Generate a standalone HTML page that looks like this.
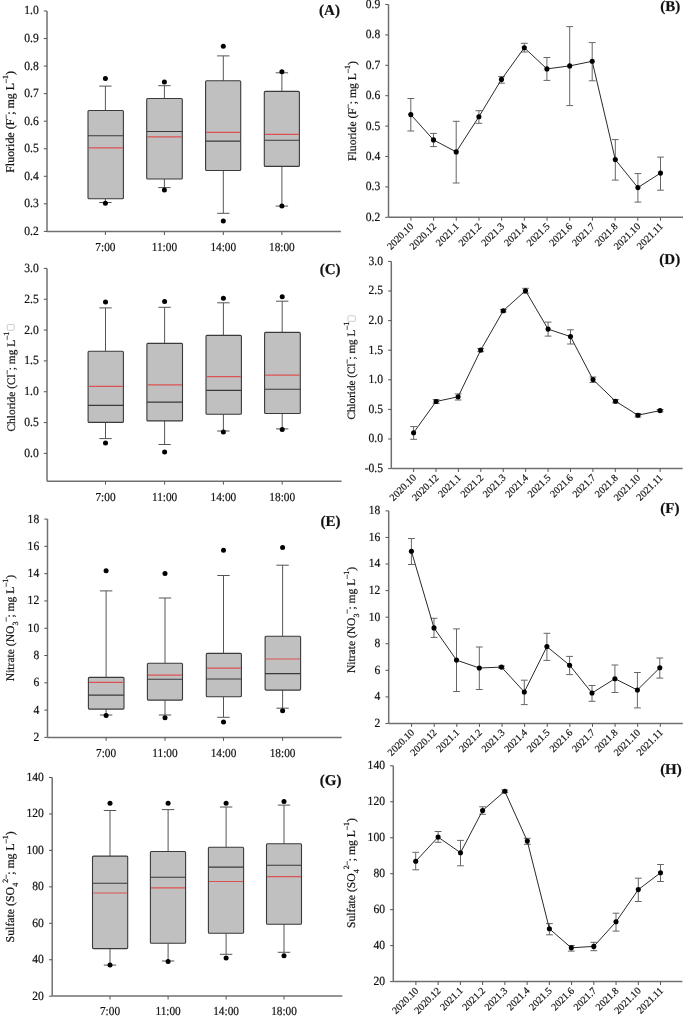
<!DOCTYPE html>
<html><head><meta charset="utf-8"><title>Figure</title>
<style>
html,body{margin:0;padding:0;background:#fff;}
body{width:685px;height:1019px;overflow:hidden;}
svg{display:block;will-change:transform;}
text{font-family:"Liberation Serif", serif;fill:#111;stroke:#111;stroke-width:0.2px;text-rendering:geometricPrecision;}
</style></head>
<body>
<svg width="685" height="1019" viewBox="0 0 685 1019">

<rect width="685" height="1019" fill="#fff"/>
<g>
<line x1="47" y1="11" x2="47" y2="231.6" stroke="#707070" stroke-width="1.5"/>
<line x1="43.8" y1="231.4" x2="47" y2="231.4" stroke="#555" stroke-width="1.0"/>
<text x="38.7" y="234.85" font-size="11.6" text-anchor="end" transform="matrix(1 0 0 1.08 0 -18.79)">0.2</text>
<line x1="43.8" y1="203.85" x2="47" y2="203.85" stroke="#555" stroke-width="1.0"/>
<text x="38.7" y="207.3" font-size="11.6" text-anchor="end" transform="matrix(1 0 0 1.08 0 -16.58)">0.3</text>
<line x1="43.8" y1="176.3" x2="47" y2="176.3" stroke="#555" stroke-width="1.0"/>
<text x="38.7" y="179.75" font-size="11.6" text-anchor="end" transform="matrix(1 0 0 1.08 0 -14.38)">0.4</text>
<line x1="43.8" y1="148.75" x2="47" y2="148.75" stroke="#555" stroke-width="1.0"/>
<text x="38.7" y="152.2" font-size="11.6" text-anchor="end" transform="matrix(1 0 0 1.08 0 -12.18)">0.5</text>
<line x1="43.8" y1="121.2" x2="47" y2="121.2" stroke="#555" stroke-width="1.0"/>
<text x="38.7" y="124.65" font-size="11.6" text-anchor="end" transform="matrix(1 0 0 1.08 0 -9.97)">0.6</text>
<line x1="43.8" y1="93.65" x2="47" y2="93.65" stroke="#555" stroke-width="1.0"/>
<text x="38.7" y="97.1" font-size="11.6" text-anchor="end" transform="matrix(1 0 0 1.08 0 -7.77)">0.7</text>
<line x1="43.8" y1="66.1" x2="47" y2="66.1" stroke="#555" stroke-width="1.0"/>
<text x="38.7" y="69.55" font-size="11.6" text-anchor="end" transform="matrix(1 0 0 1.08 0 -5.56)">0.8</text>
<line x1="43.8" y1="38.55" x2="47" y2="38.55" stroke="#555" stroke-width="1.0"/>
<text x="38.7" y="42" font-size="11.6" text-anchor="end" transform="matrix(1 0 0 1.08 0 -3.36)">0.9</text>
<line x1="43.8" y1="11" x2="47" y2="11" stroke="#555" stroke-width="1.0"/>
<text x="38.7" y="14.45" font-size="11.6" text-anchor="end" transform="matrix(1 0 0 1.08 0 -1.16)">1.0</text>
<line x1="47" y1="231.6" x2="340.9" y2="231.6" stroke="#707070" stroke-width="1.5"/>
<line x1="105.4" y1="231.6" x2="105.4" y2="235" stroke="#555" stroke-width="1.0"/>
<line x1="164.4" y1="231.6" x2="164.4" y2="235" stroke="#555" stroke-width="1.0"/>
<line x1="223.3" y1="231.6" x2="223.3" y2="235" stroke="#555" stroke-width="1.0"/>
<line x1="281.9" y1="231.6" x2="281.9" y2="235" stroke="#555" stroke-width="1.0"/>
<line x1="105.4" y1="86.1" x2="105.4" y2="110.5" stroke="#555" stroke-width="1"/>
<line x1="105.4" y1="198.8" x2="105.4" y2="202.5" stroke="#555" stroke-width="1"/>
<line x1="99.2" y1="86.1" x2="111.6" y2="86.1" stroke="#555" stroke-width="1"/>
<line x1="99.2" y1="202.5" x2="111.6" y2="202.5" stroke="#555" stroke-width="1"/>
<rect x="88" y="110.5" width="35.4" height="88.3" rx="1" fill="#c0c0c0" stroke="#3a3a3a" stroke-width="1.1"/>
<line x1="88" y1="135.7" x2="123.4" y2="135.7" stroke="#3a3a3a" stroke-width="1.1"/>
<line x1="88.6" y1="147.8" x2="122.8" y2="147.8" stroke="#dc5252" stroke-width="1.2"/>
<circle cx="105.4" cy="78.5" r="2.5" fill="#000"/>
<circle cx="105.4" cy="203.3" r="2.5" fill="#000"/>
<line x1="164.4" y1="85.7" x2="164.4" y2="98.5" stroke="#555" stroke-width="1"/>
<line x1="164.4" y1="179" x2="164.4" y2="187.6" stroke="#555" stroke-width="1"/>
<line x1="158.2" y1="85.7" x2="170.6" y2="85.7" stroke="#555" stroke-width="1"/>
<line x1="158.2" y1="187.6" x2="170.6" y2="187.6" stroke="#555" stroke-width="1"/>
<rect x="146.7" y="98.5" width="35.6" height="80.5" rx="1" fill="#c0c0c0" stroke="#3a3a3a" stroke-width="1.1"/>
<line x1="146.7" y1="131.5" x2="182.3" y2="131.5" stroke="#3a3a3a" stroke-width="1.1"/>
<line x1="147.3" y1="136.8" x2="181.7" y2="136.8" stroke="#dc5252" stroke-width="1.2"/>
<circle cx="164.4" cy="82" r="2.5" fill="#000"/>
<circle cx="164.4" cy="190" r="2.5" fill="#000"/>
<line x1="223.3" y1="55.9" x2="223.3" y2="80.8" stroke="#555" stroke-width="1"/>
<line x1="223.3" y1="170.5" x2="223.3" y2="213.3" stroke="#555" stroke-width="1"/>
<line x1="217.1" y1="55.9" x2="229.5" y2="55.9" stroke="#555" stroke-width="1"/>
<line x1="217.1" y1="213.3" x2="229.5" y2="213.3" stroke="#555" stroke-width="1"/>
<rect x="205.6" y="80.8" width="35.1" height="89.7" rx="1" fill="#c0c0c0" stroke="#3a3a3a" stroke-width="1.1"/>
<line x1="205.6" y1="141.1" x2="240.7" y2="141.1" stroke="#3a3a3a" stroke-width="1.1"/>
<line x1="206.2" y1="132.3" x2="240.1" y2="132.3" stroke="#dc5252" stroke-width="1.2"/>
<circle cx="223.3" cy="46.3" r="2.5" fill="#000"/>
<circle cx="223.3" cy="221" r="2.5" fill="#000"/>
<line x1="281.9" y1="72.8" x2="281.9" y2="91.4" stroke="#555" stroke-width="1"/>
<line x1="281.9" y1="166.4" x2="281.9" y2="206.1" stroke="#555" stroke-width="1"/>
<line x1="275.7" y1="72.8" x2="288.1" y2="72.8" stroke="#555" stroke-width="1"/>
<line x1="275.7" y1="206.1" x2="288.1" y2="206.1" stroke="#555" stroke-width="1"/>
<rect x="264.3" y="91.4" width="35.1" height="75" rx="1" fill="#c0c0c0" stroke="#3a3a3a" stroke-width="1.1"/>
<line x1="264.3" y1="140.3" x2="299.4" y2="140.3" stroke="#3a3a3a" stroke-width="1.1"/>
<line x1="264.9" y1="134.4" x2="298.8" y2="134.4" stroke="#dc5252" stroke-width="1.2"/>
<circle cx="281.9" cy="71.8" r="2.5" fill="#000"/>
<circle cx="281.9" cy="206.1" r="2.5" fill="#000"/>
<text x="105.4" y="251" font-size="11.3" text-anchor="middle" transform="matrix(1 0 0 1.08 0 -20.08)">7:00</text>
<text x="164.4" y="251" font-size="11.3" text-anchor="middle" transform="matrix(1 0 0 1.08 0 -20.08)">11:00</text>
<text x="223.3" y="251" font-size="11.3" text-anchor="middle" transform="matrix(1 0 0 1.08 0 -20.08)">14:00</text>
<text x="281.9" y="251" font-size="11.3" text-anchor="middle" transform="matrix(1 0 0 1.08 0 -20.08)">18:00</text>
<text x="14.5" y="121.85" font-size="11.95" text-anchor="middle" transform="rotate(-90 14.5 121.85)">Fluoride (F<tspan font-size="8.0" baseline-shift="6.3">&#8211;</tspan>; mg L<tspan font-size="8.0" baseline-shift="6.3">&#8211;1</tspan>)</text>
<text x="339.9" y="14.6" font-size="15.0" text-anchor="end" font-weight="bold">(A)</text>
<line x1="388.5" y1="4.5" x2="388.5" y2="217.3" stroke="#707070" stroke-width="1.5"/>
<line x1="385.3" y1="217.3" x2="388.5" y2="217.3" stroke="#555" stroke-width="1.0"/>
<text x="380.2" y="220.75" font-size="11.6" text-anchor="end" transform="matrix(1 0 0 1.08 0 -17.66)">0.2</text>
<line x1="385.3" y1="186.9" x2="388.5" y2="186.9" stroke="#555" stroke-width="1.0"/>
<text x="380.2" y="190.35" font-size="11.6" text-anchor="end" transform="matrix(1 0 0 1.08 0 -15.23)">0.3</text>
<line x1="385.3" y1="156.5" x2="388.5" y2="156.5" stroke="#555" stroke-width="1.0"/>
<text x="380.2" y="159.95" font-size="11.6" text-anchor="end" transform="matrix(1 0 0 1.08 0 -12.8)">0.4</text>
<line x1="385.3" y1="126.1" x2="388.5" y2="126.1" stroke="#555" stroke-width="1.0"/>
<text x="380.2" y="129.55" font-size="11.6" text-anchor="end" transform="matrix(1 0 0 1.08 0 -10.36)">0.5</text>
<line x1="385.3" y1="95.7" x2="388.5" y2="95.7" stroke="#555" stroke-width="1.0"/>
<text x="380.2" y="99.15" font-size="11.6" text-anchor="end" transform="matrix(1 0 0 1.08 0 -7.93)">0.6</text>
<line x1="385.3" y1="65.3" x2="388.5" y2="65.3" stroke="#555" stroke-width="1.0"/>
<text x="380.2" y="68.75" font-size="11.6" text-anchor="end" transform="matrix(1 0 0 1.08 0 -5.5)">0.7</text>
<line x1="385.3" y1="34.9" x2="388.5" y2="34.9" stroke="#555" stroke-width="1.0"/>
<text x="380.2" y="38.35" font-size="11.6" text-anchor="end" transform="matrix(1 0 0 1.08 0 -3.07)">0.8</text>
<line x1="385.3" y1="4.5" x2="388.5" y2="4.5" stroke="#555" stroke-width="1.0"/>
<text x="380.2" y="7.95" font-size="11.6" text-anchor="end" transform="matrix(1 0 0 1.08 0 -0.64)">0.9</text>
<line x1="388.5" y1="217.3" x2="683" y2="217.3" stroke="#707070" stroke-width="1.5"/>
<line x1="410.9" y1="217.3" x2="410.9" y2="220.7" stroke="#555" stroke-width="1.0"/>
<line x1="433.59" y1="217.3" x2="433.59" y2="220.7" stroke="#555" stroke-width="1.0"/>
<line x1="456.28" y1="217.3" x2="456.28" y2="220.7" stroke="#555" stroke-width="1.0"/>
<line x1="478.97" y1="217.3" x2="478.97" y2="220.7" stroke="#555" stroke-width="1.0"/>
<line x1="501.66" y1="217.3" x2="501.66" y2="220.7" stroke="#555" stroke-width="1.0"/>
<line x1="524.35" y1="217.3" x2="524.35" y2="220.7" stroke="#555" stroke-width="1.0"/>
<line x1="547.04" y1="217.3" x2="547.04" y2="220.7" stroke="#555" stroke-width="1.0"/>
<line x1="569.73" y1="217.3" x2="569.73" y2="220.7" stroke="#555" stroke-width="1.0"/>
<line x1="592.42" y1="217.3" x2="592.42" y2="220.7" stroke="#555" stroke-width="1.0"/>
<line x1="615.11" y1="217.3" x2="615.11" y2="220.7" stroke="#555" stroke-width="1.0"/>
<line x1="637.8" y1="217.3" x2="637.8" y2="220.7" stroke="#555" stroke-width="1.0"/>
<line x1="660.49" y1="217.3" x2="660.49" y2="220.7" stroke="#555" stroke-width="1.0"/>
<line x1="410.8" y1="98.5" x2="410.8" y2="131" stroke="#666" stroke-width="1"/>
<line x1="407.4" y1="98.5" x2="414.2" y2="98.5" stroke="#666" stroke-width="1"/>
<line x1="407.4" y1="131" x2="414.2" y2="131" stroke="#666" stroke-width="1"/>
<line x1="433.5" y1="133.4" x2="433.5" y2="146.6" stroke="#666" stroke-width="1"/>
<line x1="430.1" y1="133.4" x2="436.9" y2="133.4" stroke="#666" stroke-width="1"/>
<line x1="430.1" y1="146.6" x2="436.9" y2="146.6" stroke="#666" stroke-width="1"/>
<line x1="456.2" y1="121.3" x2="456.2" y2="183" stroke="#666" stroke-width="1"/>
<line x1="452.8" y1="121.3" x2="459.6" y2="121.3" stroke="#666" stroke-width="1"/>
<line x1="452.8" y1="183" x2="459.6" y2="183" stroke="#666" stroke-width="1"/>
<line x1="478.9" y1="110.7" x2="478.9" y2="123.3" stroke="#666" stroke-width="1"/>
<line x1="475.5" y1="110.7" x2="482.3" y2="110.7" stroke="#666" stroke-width="1"/>
<line x1="475.5" y1="123.3" x2="482.3" y2="123.3" stroke="#666" stroke-width="1"/>
<line x1="501.5" y1="76.6" x2="501.5" y2="83.2" stroke="#666" stroke-width="1"/>
<line x1="498.1" y1="76.6" x2="504.9" y2="76.6" stroke="#666" stroke-width="1"/>
<line x1="498.1" y1="83.2" x2="504.9" y2="83.2" stroke="#666" stroke-width="1"/>
<line x1="524.3" y1="43.3" x2="524.3" y2="52" stroke="#666" stroke-width="1"/>
<line x1="520.9" y1="43.3" x2="527.7" y2="43.3" stroke="#666" stroke-width="1"/>
<line x1="520.9" y1="52" x2="527.7" y2="52" stroke="#666" stroke-width="1"/>
<line x1="546.9" y1="57.5" x2="546.9" y2="80.4" stroke="#666" stroke-width="1"/>
<line x1="543.5" y1="57.5" x2="550.3" y2="57.5" stroke="#666" stroke-width="1"/>
<line x1="543.5" y1="80.4" x2="550.3" y2="80.4" stroke="#666" stroke-width="1"/>
<line x1="569.7" y1="26.6" x2="569.7" y2="105.6" stroke="#666" stroke-width="1"/>
<line x1="566.3" y1="26.6" x2="573.1" y2="26.6" stroke="#666" stroke-width="1"/>
<line x1="566.3" y1="105.6" x2="573.1" y2="105.6" stroke="#666" stroke-width="1"/>
<line x1="592.2" y1="42.6" x2="592.2" y2="80.8" stroke="#666" stroke-width="1"/>
<line x1="588.8" y1="42.6" x2="595.6" y2="42.6" stroke="#666" stroke-width="1"/>
<line x1="588.8" y1="80.8" x2="595.6" y2="80.8" stroke="#666" stroke-width="1"/>
<line x1="615.3" y1="139.6" x2="615.3" y2="180.1" stroke="#666" stroke-width="1"/>
<line x1="611.9" y1="139.6" x2="618.7" y2="139.6" stroke="#666" stroke-width="1"/>
<line x1="611.9" y1="180.1" x2="618.7" y2="180.1" stroke="#666" stroke-width="1"/>
<line x1="637.9" y1="173.6" x2="637.9" y2="202.1" stroke="#666" stroke-width="1"/>
<line x1="634.5" y1="173.6" x2="641.3" y2="173.6" stroke="#666" stroke-width="1"/>
<line x1="634.5" y1="202.1" x2="641.3" y2="202.1" stroke="#666" stroke-width="1"/>
<line x1="660.5" y1="157.1" x2="660.5" y2="190.2" stroke="#666" stroke-width="1"/>
<line x1="657.1" y1="157.1" x2="663.9" y2="157.1" stroke="#666" stroke-width="1"/>
<line x1="657.1" y1="190.2" x2="663.9" y2="190.2" stroke="#666" stroke-width="1"/>
<polyline points="410.8,114.6 433.5,139.9 456.2,151.9 478.9,116.7 501.5,79.4 524.3,47.7 546.9,68.9 569.7,65.9 592.2,61.3 615.3,159.6 637.9,187.6 660.5,173.1" fill="none" stroke="#2a2a2a" stroke-width="1"/>
<circle cx="410.8" cy="114.6" r="2.55" fill="#000"/>
<circle cx="433.5" cy="139.9" r="2.55" fill="#000"/>
<circle cx="456.2" cy="151.9" r="2.55" fill="#000"/>
<circle cx="478.9" cy="116.7" r="2.55" fill="#000"/>
<circle cx="501.5" cy="79.4" r="2.55" fill="#000"/>
<circle cx="524.3" cy="47.7" r="2.55" fill="#000"/>
<circle cx="546.9" cy="68.9" r="2.55" fill="#000"/>
<circle cx="569.7" cy="65.9" r="2.55" fill="#000"/>
<circle cx="592.2" cy="61.3" r="2.55" fill="#000"/>
<circle cx="615.3" cy="159.6" r="2.55" fill="#000"/>
<circle cx="637.9" cy="187.6" r="2.55" fill="#000"/>
<circle cx="660.5" cy="173.1" r="2.55" fill="#000"/>
<text x="414.1" y="227" font-size="10.1" text-anchor="end" transform="rotate(-45 414.1 227)">2020.10</text>
<text x="436.79" y="227" font-size="10.1" text-anchor="end" transform="rotate(-45 436.79 227)">2020.12</text>
<text x="459.48" y="227" font-size="10.1" text-anchor="end" transform="rotate(-45 459.48 227)">2021.1</text>
<text x="482.17" y="227" font-size="10.1" text-anchor="end" transform="rotate(-45 482.17 227)">2021.2</text>
<text x="504.86" y="227" font-size="10.1" text-anchor="end" transform="rotate(-45 504.86 227)">2021.3</text>
<text x="527.55" y="227" font-size="10.1" text-anchor="end" transform="rotate(-45 527.55 227)">2021.4</text>
<text x="550.24" y="227" font-size="10.1" text-anchor="end" transform="rotate(-45 550.24 227)">2021.5</text>
<text x="572.93" y="227" font-size="10.1" text-anchor="end" transform="rotate(-45 572.93 227)">2021.6</text>
<text x="595.62" y="227" font-size="10.1" text-anchor="end" transform="rotate(-45 595.62 227)">2021.7</text>
<text x="618.31" y="227" font-size="10.1" text-anchor="end" transform="rotate(-45 618.31 227)">2021.8</text>
<text x="641" y="227" font-size="10.1" text-anchor="end" transform="rotate(-45 641 227)">2021.10</text>
<text x="663.69" y="227" font-size="10.1" text-anchor="end" transform="rotate(-45 663.69 227)">2021.11</text>
<text x="355.8" y="111.05" font-size="11.65" text-anchor="middle" transform="rotate(-90 355.8 111.05)">Fluoride (F<tspan font-size="8.0" baseline-shift="6.3">&#8211;</tspan>; mg L<tspan font-size="8.0" baseline-shift="6.3">&#8211;1</tspan>)</text>
<text x="680.2" y="11.1" font-size="15.0" text-anchor="end" font-weight="bold">(B)</text>
<line x1="47" y1="268.42" x2="47" y2="481.2" stroke="#707070" stroke-width="1.5"/>
<line x1="43.8" y1="453.4" x2="47" y2="453.4" stroke="#555" stroke-width="1.0"/>
<text x="38.7" y="456.85" font-size="11.6" text-anchor="end" transform="matrix(1 0 0 1.08 0 -36.55)">0.0</text>
<line x1="43.8" y1="422.57" x2="47" y2="422.57" stroke="#555" stroke-width="1.0"/>
<text x="38.7" y="426.02" font-size="11.6" text-anchor="end" transform="matrix(1 0 0 1.08 0 -34.08)">0.5</text>
<line x1="43.8" y1="391.74" x2="47" y2="391.74" stroke="#555" stroke-width="1.0"/>
<text x="38.7" y="395.19" font-size="11.6" text-anchor="end" transform="matrix(1 0 0 1.08 0 -31.62)">1.0</text>
<line x1="43.8" y1="360.91" x2="47" y2="360.91" stroke="#555" stroke-width="1.0"/>
<text x="38.7" y="364.36" font-size="11.6" text-anchor="end" transform="matrix(1 0 0 1.08 0 -29.15)">1.5</text>
<line x1="43.8" y1="330.08" x2="47" y2="330.08" stroke="#555" stroke-width="1.0"/>
<text x="38.7" y="333.53" font-size="11.6" text-anchor="end" transform="matrix(1 0 0 1.08 0 -26.68)">2.0</text>
<line x1="43.8" y1="299.25" x2="47" y2="299.25" stroke="#555" stroke-width="1.0"/>
<text x="38.7" y="302.7" font-size="11.6" text-anchor="end" transform="matrix(1 0 0 1.08 0 -24.22)">2.5</text>
<line x1="43.8" y1="268.42" x2="47" y2="268.42" stroke="#555" stroke-width="1.0"/>
<text x="38.7" y="271.87" font-size="11.6" text-anchor="end" transform="matrix(1 0 0 1.08 0 -21.75)">3.0</text>
<line x1="47" y1="481.2" x2="341.6" y2="481.2" stroke="#707070" stroke-width="1.5"/>
<line x1="105.5" y1="481.2" x2="105.5" y2="484.6" stroke="#555" stroke-width="1.0"/>
<line x1="164.6" y1="481.2" x2="164.6" y2="484.6" stroke="#555" stroke-width="1.0"/>
<line x1="223.4" y1="481.2" x2="223.4" y2="484.6" stroke="#555" stroke-width="1.0"/>
<line x1="282.2" y1="481.2" x2="282.2" y2="484.6" stroke="#555" stroke-width="1.0"/>
<line x1="105.5" y1="307.9" x2="105.5" y2="351.3" stroke="#555" stroke-width="1"/>
<line x1="105.5" y1="422.4" x2="105.5" y2="438.6" stroke="#555" stroke-width="1"/>
<line x1="99.3" y1="307.9" x2="111.7" y2="307.9" stroke="#555" stroke-width="1"/>
<line x1="99.3" y1="438.6" x2="111.7" y2="438.6" stroke="#555" stroke-width="1"/>
<rect x="88.1" y="351.3" width="35.3" height="71.1" rx="1" fill="#c0c0c0" stroke="#3a3a3a" stroke-width="1.1"/>
<line x1="88.1" y1="405.4" x2="123.4" y2="405.4" stroke="#3a3a3a" stroke-width="1.1"/>
<line x1="88.7" y1="386.4" x2="122.8" y2="386.4" stroke="#dc5252" stroke-width="1.2"/>
<circle cx="105.5" cy="301.9" r="2.5" fill="#000"/>
<circle cx="105.5" cy="443" r="2.5" fill="#000"/>
<line x1="164.6" y1="307.3" x2="164.6" y2="343.4" stroke="#555" stroke-width="1"/>
<line x1="164.6" y1="420.9" x2="164.6" y2="444.5" stroke="#555" stroke-width="1"/>
<line x1="158.4" y1="307.3" x2="170.8" y2="307.3" stroke="#555" stroke-width="1"/>
<line x1="158.4" y1="444.5" x2="170.8" y2="444.5" stroke="#555" stroke-width="1"/>
<rect x="146.9" y="343.4" width="35.6" height="77.5" rx="1" fill="#c0c0c0" stroke="#3a3a3a" stroke-width="1.1"/>
<line x1="146.9" y1="402.1" x2="182.5" y2="402.1" stroke="#3a3a3a" stroke-width="1.1"/>
<line x1="147.5" y1="384.8" x2="181.9" y2="384.8" stroke="#dc5252" stroke-width="1.2"/>
<circle cx="164.6" cy="301.4" r="2.5" fill="#000"/>
<circle cx="164.6" cy="452" r="2.5" fill="#000"/>
<line x1="223.4" y1="302.8" x2="223.4" y2="335.4" stroke="#555" stroke-width="1"/>
<line x1="223.4" y1="414.2" x2="223.4" y2="431" stroke="#555" stroke-width="1"/>
<line x1="217.2" y1="302.8" x2="229.6" y2="302.8" stroke="#555" stroke-width="1"/>
<line x1="217.2" y1="431" x2="229.6" y2="431" stroke="#555" stroke-width="1"/>
<rect x="206" y="335.4" width="35.4" height="78.8" rx="1" fill="#c0c0c0" stroke="#3a3a3a" stroke-width="1.1"/>
<line x1="206" y1="390.4" x2="241.4" y2="390.4" stroke="#3a3a3a" stroke-width="1.1"/>
<line x1="206.6" y1="376.7" x2="240.8" y2="376.7" stroke="#dc5252" stroke-width="1.2"/>
<circle cx="223.4" cy="298.2" r="2.5" fill="#000"/>
<circle cx="223.4" cy="431.9" r="2.5" fill="#000"/>
<line x1="282.2" y1="301.2" x2="282.2" y2="332.4" stroke="#555" stroke-width="1"/>
<line x1="282.2" y1="413.5" x2="282.2" y2="428.9" stroke="#555" stroke-width="1"/>
<line x1="276" y1="301.2" x2="288.4" y2="301.2" stroke="#555" stroke-width="1"/>
<line x1="276" y1="428.9" x2="288.4" y2="428.9" stroke="#555" stroke-width="1"/>
<rect x="264.6" y="332.4" width="35.7" height="81.1" rx="1" fill="#c0c0c0" stroke="#3a3a3a" stroke-width="1.1"/>
<line x1="264.6" y1="389.2" x2="300.3" y2="389.2" stroke="#3a3a3a" stroke-width="1.1"/>
<line x1="265.2" y1="375.1" x2="299.7" y2="375.1" stroke="#dc5252" stroke-width="1.2"/>
<circle cx="282.2" cy="296.7" r="2.5" fill="#000"/>
<circle cx="282.2" cy="429.6" r="2.5" fill="#000"/>
<text x="105.5" y="500.8" font-size="11.3" text-anchor="middle" transform="matrix(1 0 0 1.08 0 -40.06)">7:00</text>
<text x="164.6" y="500.8" font-size="11.3" text-anchor="middle" transform="matrix(1 0 0 1.08 0 -40.06)">11:00</text>
<text x="223.4" y="500.8" font-size="11.3" text-anchor="middle" transform="matrix(1 0 0 1.08 0 -40.06)">14:00</text>
<text x="282.2" y="500.8" font-size="11.3" text-anchor="middle" transform="matrix(1 0 0 1.08 0 -40.06)">18:00</text>
<text x="14.6" y="431.5" font-size="11.4" text-anchor="start" transform="rotate(-90 14.6 431.5)">Chloride (Cl<tspan font-size="8.0" baseline-shift="6.3">&#8211;</tspan>; mg L<tspan font-size="8.0" baseline-shift="6.3">&#8211;1</tspan></text>
<rect x="7.3" y="324.5" width="6.9" height="5.8" rx="0.9" fill="none" stroke="#c2c2c2" stroke-width="0.8"/>
<text x="340.6" y="274.3" font-size="15.0" text-anchor="end" font-weight="bold">(C)</text>
<line x1="391.3" y1="261.4" x2="391.3" y2="468.6" stroke="#707070" stroke-width="1.5"/>
<line x1="388.1" y1="468.6" x2="391.3" y2="468.6" stroke="#555" stroke-width="1.0"/>
<text x="383" y="472.05" font-size="11.6" text-anchor="end" transform="matrix(1 0 0 1.08 0 -37.76)">-0.5</text>
<line x1="388.1" y1="439" x2="391.3" y2="439" stroke="#555" stroke-width="1.0"/>
<text x="383" y="442.45" font-size="11.6" text-anchor="end" transform="matrix(1 0 0 1.08 0 -35.4)">0.0</text>
<line x1="388.1" y1="409.4" x2="391.3" y2="409.4" stroke="#555" stroke-width="1.0"/>
<text x="383" y="412.85" font-size="11.6" text-anchor="end" transform="matrix(1 0 0 1.08 0 -33.03)">0.5</text>
<line x1="388.1" y1="379.8" x2="391.3" y2="379.8" stroke="#555" stroke-width="1.0"/>
<text x="383" y="383.25" font-size="11.6" text-anchor="end" transform="matrix(1 0 0 1.08 0 -30.66)">1.0</text>
<line x1="388.1" y1="350.2" x2="391.3" y2="350.2" stroke="#555" stroke-width="1.0"/>
<text x="383" y="353.65" font-size="11.6" text-anchor="end" transform="matrix(1 0 0 1.08 0 -28.29)">1.5</text>
<line x1="388.1" y1="320.6" x2="391.3" y2="320.6" stroke="#555" stroke-width="1.0"/>
<text x="383" y="324.05" font-size="11.6" text-anchor="end" transform="matrix(1 0 0 1.08 0 -25.92)">2.0</text>
<line x1="388.1" y1="291" x2="391.3" y2="291" stroke="#555" stroke-width="1.0"/>
<text x="383" y="294.45" font-size="11.6" text-anchor="end" transform="matrix(1 0 0 1.08 0 -23.56)">2.5</text>
<line x1="388.1" y1="261.4" x2="391.3" y2="261.4" stroke="#555" stroke-width="1.0"/>
<text x="383" y="264.85" font-size="11.6" text-anchor="end" transform="matrix(1 0 0 1.08 0 -21.19)">3.0</text>
<line x1="391.3" y1="468.6" x2="682.7" y2="468.6" stroke="#707070" stroke-width="1.5"/>
<line x1="413.6" y1="468.6" x2="413.6" y2="472" stroke="#555" stroke-width="1.0"/>
<line x1="436.01" y1="468.6" x2="436.01" y2="472" stroke="#555" stroke-width="1.0"/>
<line x1="458.42" y1="468.6" x2="458.42" y2="472" stroke="#555" stroke-width="1.0"/>
<line x1="480.83" y1="468.6" x2="480.83" y2="472" stroke="#555" stroke-width="1.0"/>
<line x1="503.24" y1="468.6" x2="503.24" y2="472" stroke="#555" stroke-width="1.0"/>
<line x1="525.65" y1="468.6" x2="525.65" y2="472" stroke="#555" stroke-width="1.0"/>
<line x1="548.06" y1="468.6" x2="548.06" y2="472" stroke="#555" stroke-width="1.0"/>
<line x1="570.47" y1="468.6" x2="570.47" y2="472" stroke="#555" stroke-width="1.0"/>
<line x1="592.88" y1="468.6" x2="592.88" y2="472" stroke="#555" stroke-width="1.0"/>
<line x1="615.29" y1="468.6" x2="615.29" y2="472" stroke="#555" stroke-width="1.0"/>
<line x1="637.7" y1="468.6" x2="637.7" y2="472" stroke="#555" stroke-width="1.0"/>
<line x1="660.11" y1="468.6" x2="660.11" y2="472" stroke="#555" stroke-width="1.0"/>
<line x1="413.6" y1="426.6" x2="413.6" y2="439.3" stroke="#666" stroke-width="1"/>
<line x1="410.2" y1="426.6" x2="417" y2="426.6" stroke="#666" stroke-width="1"/>
<line x1="410.2" y1="439.3" x2="417" y2="439.3" stroke="#666" stroke-width="1"/>
<line x1="436.1" y1="399.6" x2="436.1" y2="403.4" stroke="#666" stroke-width="1"/>
<line x1="432.7" y1="399.6" x2="439.5" y2="399.6" stroke="#666" stroke-width="1"/>
<line x1="432.7" y1="403.4" x2="439.5" y2="403.4" stroke="#666" stroke-width="1"/>
<line x1="458.1" y1="393.9" x2="458.1" y2="400" stroke="#666" stroke-width="1"/>
<line x1="454.7" y1="393.9" x2="461.5" y2="393.9" stroke="#666" stroke-width="1"/>
<line x1="454.7" y1="400" x2="461.5" y2="400" stroke="#666" stroke-width="1"/>
<line x1="480.7" y1="348.5" x2="480.7" y2="351.7" stroke="#666" stroke-width="1"/>
<line x1="477.3" y1="348.5" x2="484.1" y2="348.5" stroke="#666" stroke-width="1"/>
<line x1="477.3" y1="351.7" x2="484.1" y2="351.7" stroke="#666" stroke-width="1"/>
<line x1="503.3" y1="309.4" x2="503.3" y2="312" stroke="#666" stroke-width="1"/>
<line x1="499.9" y1="309.4" x2="506.7" y2="309.4" stroke="#666" stroke-width="1"/>
<line x1="499.9" y1="312" x2="506.7" y2="312" stroke="#666" stroke-width="1"/>
<line x1="525.5" y1="288.3" x2="525.5" y2="293.2" stroke="#666" stroke-width="1"/>
<line x1="522.1" y1="288.3" x2="528.9" y2="288.3" stroke="#666" stroke-width="1"/>
<line x1="522.1" y1="293.2" x2="528.9" y2="293.2" stroke="#666" stroke-width="1"/>
<line x1="548.1" y1="322.1" x2="548.1" y2="336.1" stroke="#666" stroke-width="1"/>
<line x1="544.7" y1="322.1" x2="551.5" y2="322.1" stroke="#666" stroke-width="1"/>
<line x1="544.7" y1="336.1" x2="551.5" y2="336.1" stroke="#666" stroke-width="1"/>
<line x1="570.5" y1="329.8" x2="570.5" y2="344" stroke="#666" stroke-width="1"/>
<line x1="567.1" y1="329.8" x2="573.9" y2="329.8" stroke="#666" stroke-width="1"/>
<line x1="567.1" y1="344" x2="573.9" y2="344" stroke="#666" stroke-width="1"/>
<line x1="593" y1="377" x2="593" y2="382.4" stroke="#666" stroke-width="1"/>
<line x1="589.6" y1="377" x2="596.4" y2="377" stroke="#666" stroke-width="1"/>
<line x1="589.6" y1="382.4" x2="596.4" y2="382.4" stroke="#666" stroke-width="1"/>
<line x1="615.5" y1="399.6" x2="615.5" y2="402.9" stroke="#666" stroke-width="1"/>
<line x1="612.1" y1="399.6" x2="618.9" y2="399.6" stroke="#666" stroke-width="1"/>
<line x1="612.1" y1="402.9" x2="618.9" y2="402.9" stroke="#666" stroke-width="1"/>
<line x1="637.9" y1="413.5" x2="637.9" y2="417" stroke="#666" stroke-width="1"/>
<line x1="634.5" y1="413.5" x2="641.3" y2="413.5" stroke="#666" stroke-width="1"/>
<line x1="634.5" y1="417" x2="641.3" y2="417" stroke="#666" stroke-width="1"/>
<line x1="660.1" y1="409.5" x2="660.1" y2="411.8" stroke="#666" stroke-width="1"/>
<line x1="656.7" y1="409.5" x2="663.5" y2="409.5" stroke="#666" stroke-width="1"/>
<line x1="656.7" y1="411.8" x2="663.5" y2="411.8" stroke="#666" stroke-width="1"/>
<polyline points="413.6,432.7 436.1,401.5 458.1,396.8 480.7,350.1 503.3,310.7 525.5,290.7 548.1,329.1 570.5,336.6 593,379.6 615.5,401.2 637.9,415.2 660.1,410.6" fill="none" stroke="#2a2a2a" stroke-width="1"/>
<circle cx="413.6" cy="432.7" r="2.55" fill="#000"/>
<circle cx="436.1" cy="401.5" r="2.55" fill="#000"/>
<circle cx="458.1" cy="396.8" r="2.55" fill="#000"/>
<circle cx="480.7" cy="350.1" r="2.55" fill="#000"/>
<circle cx="503.3" cy="310.7" r="2.55" fill="#000"/>
<circle cx="525.5" cy="290.7" r="2.55" fill="#000"/>
<circle cx="548.1" cy="329.1" r="2.55" fill="#000"/>
<circle cx="570.5" cy="336.6" r="2.55" fill="#000"/>
<circle cx="593" cy="379.6" r="2.55" fill="#000"/>
<circle cx="615.5" cy="401.2" r="2.55" fill="#000"/>
<circle cx="637.9" cy="415.2" r="2.55" fill="#000"/>
<circle cx="660.1" cy="410.6" r="2.55" fill="#000"/>
<text x="416.8" y="478.3" font-size="10.1" text-anchor="end" transform="rotate(-45 416.8 478.3)">2020.10</text>
<text x="439.21" y="478.3" font-size="10.1" text-anchor="end" transform="rotate(-45 439.21 478.3)">2020.12</text>
<text x="461.62" y="478.3" font-size="10.1" text-anchor="end" transform="rotate(-45 461.62 478.3)">2021.1</text>
<text x="484.03" y="478.3" font-size="10.1" text-anchor="end" transform="rotate(-45 484.03 478.3)">2021.2</text>
<text x="506.44" y="478.3" font-size="10.1" text-anchor="end" transform="rotate(-45 506.44 478.3)">2021.3</text>
<text x="528.85" y="478.3" font-size="10.1" text-anchor="end" transform="rotate(-45 528.85 478.3)">2021.4</text>
<text x="551.26" y="478.3" font-size="10.1" text-anchor="end" transform="rotate(-45 551.26 478.3)">2021.5</text>
<text x="573.67" y="478.3" font-size="10.1" text-anchor="end" transform="rotate(-45 573.67 478.3)">2021.6</text>
<text x="596.08" y="478.3" font-size="10.1" text-anchor="end" transform="rotate(-45 596.08 478.3)">2021.7</text>
<text x="618.49" y="478.3" font-size="10.1" text-anchor="end" transform="rotate(-45 618.49 478.3)">2021.8</text>
<text x="640.9" y="478.3" font-size="10.1" text-anchor="end" transform="rotate(-45 640.9 478.3)">2021.10</text>
<text x="663.31" y="478.3" font-size="10.1" text-anchor="end" transform="rotate(-45 663.31 478.3)">2021.11</text>
<text x="354.9" y="419.5" font-size="11.15" text-anchor="start" transform="rotate(-90 354.9 419.5)">Chloride (Cl<tspan font-size="8.0" baseline-shift="6.3">&#8211;</tspan>; mg L<tspan font-size="8.0" baseline-shift="6.3">&#8211;1</tspan></text>
<rect x="347.9" y="315.8" width="7.4" height="5.5" rx="0.9" fill="none" stroke="#c2c2c2" stroke-width="0.8"/>
<text x="680.2" y="263.6" font-size="15.0" text-anchor="end" font-weight="bold">(D)</text>
<line x1="47.5" y1="519.08" x2="47.5" y2="737.4" stroke="#707070" stroke-width="1.5"/>
<line x1="44.3" y1="737.4" x2="47.5" y2="737.4" stroke="#555" stroke-width="1.0"/>
<text x="39.2" y="740.85" font-size="11.6" text-anchor="end" transform="matrix(1 0 0 1.08 0 -59.27)">2</text>
<line x1="44.3" y1="710.11" x2="47.5" y2="710.11" stroke="#555" stroke-width="1.0"/>
<text x="39.2" y="713.56" font-size="11.6" text-anchor="end" transform="matrix(1 0 0 1.08 0 -57.08)">4</text>
<line x1="44.3" y1="682.82" x2="47.5" y2="682.82" stroke="#555" stroke-width="1.0"/>
<text x="39.2" y="686.27" font-size="11.6" text-anchor="end" transform="matrix(1 0 0 1.08 0 -54.9)">6</text>
<line x1="44.3" y1="655.53" x2="47.5" y2="655.53" stroke="#555" stroke-width="1.0"/>
<text x="39.2" y="658.98" font-size="11.6" text-anchor="end" transform="matrix(1 0 0 1.08 0 -52.72)">8</text>
<line x1="44.3" y1="628.24" x2="47.5" y2="628.24" stroke="#555" stroke-width="1.0"/>
<text x="39.2" y="631.69" font-size="11.6" text-anchor="end" transform="matrix(1 0 0 1.08 0 -50.54)">10</text>
<line x1="44.3" y1="600.95" x2="47.5" y2="600.95" stroke="#555" stroke-width="1.0"/>
<text x="39.2" y="604.4" font-size="11.6" text-anchor="end" transform="matrix(1 0 0 1.08 0 -48.35)">12</text>
<line x1="44.3" y1="573.66" x2="47.5" y2="573.66" stroke="#555" stroke-width="1.0"/>
<text x="39.2" y="577.11" font-size="11.6" text-anchor="end" transform="matrix(1 0 0 1.08 0 -46.17)">14</text>
<line x1="44.3" y1="546.37" x2="47.5" y2="546.37" stroke="#555" stroke-width="1.0"/>
<text x="39.2" y="549.82" font-size="11.6" text-anchor="end" transform="matrix(1 0 0 1.08 0 -43.99)">16</text>
<line x1="44.3" y1="519.08" x2="47.5" y2="519.08" stroke="#555" stroke-width="1.0"/>
<text x="39.2" y="522.53" font-size="11.6" text-anchor="end" transform="matrix(1 0 0 1.08 0 -41.8)">18</text>
<line x1="47.5" y1="737.4" x2="341.7" y2="737.4" stroke="#707070" stroke-width="1.5"/>
<line x1="106.1" y1="737.4" x2="106.1" y2="740.8" stroke="#555" stroke-width="1.0"/>
<line x1="165" y1="737.4" x2="165" y2="740.8" stroke="#555" stroke-width="1.0"/>
<line x1="223.5" y1="737.4" x2="223.5" y2="740.8" stroke="#555" stroke-width="1.0"/>
<line x1="282.6" y1="737.4" x2="282.6" y2="740.8" stroke="#555" stroke-width="1.0"/>
<line x1="106.1" y1="590.9" x2="106.1" y2="677.4" stroke="#555" stroke-width="1"/>
<line x1="106.1" y1="709.1" x2="106.1" y2="715" stroke="#555" stroke-width="1"/>
<line x1="99.9" y1="590.9" x2="112.3" y2="590.9" stroke="#555" stroke-width="1"/>
<line x1="99.9" y1="715" x2="112.3" y2="715" stroke="#555" stroke-width="1"/>
<rect x="88.4" y="677.4" width="35.6" height="31.7" rx="1" fill="#c0c0c0" stroke="#3a3a3a" stroke-width="1.1"/>
<line x1="88.4" y1="695.1" x2="124" y2="695.1" stroke="#3a3a3a" stroke-width="1.1"/>
<line x1="89" y1="682.4" x2="123.4" y2="682.4" stroke="#dc5252" stroke-width="1.2"/>
<circle cx="106.1" cy="570.8" r="2.5" fill="#000"/>
<circle cx="106.1" cy="715.6" r="2.5" fill="#000"/>
<line x1="165" y1="598" x2="165" y2="663.2" stroke="#555" stroke-width="1"/>
<line x1="165" y1="700.1" x2="165" y2="715" stroke="#555" stroke-width="1"/>
<line x1="158.8" y1="598" x2="171.2" y2="598" stroke="#555" stroke-width="1"/>
<line x1="158.8" y1="715" x2="171.2" y2="715" stroke="#555" stroke-width="1"/>
<rect x="147.4" y="663.2" width="35.1" height="36.9" rx="1" fill="#c0c0c0" stroke="#3a3a3a" stroke-width="1.1"/>
<line x1="147.4" y1="679.2" x2="182.5" y2="679.2" stroke="#3a3a3a" stroke-width="1.1"/>
<line x1="148" y1="675.1" x2="181.9" y2="675.1" stroke="#dc5252" stroke-width="1.2"/>
<circle cx="165" cy="573.4" r="2.5" fill="#000"/>
<circle cx="165" cy="717.8" r="2.5" fill="#000"/>
<line x1="223.5" y1="575.5" x2="223.5" y2="653.4" stroke="#555" stroke-width="1"/>
<line x1="223.5" y1="696.7" x2="223.5" y2="717.3" stroke="#555" stroke-width="1"/>
<line x1="217.3" y1="575.5" x2="229.7" y2="575.5" stroke="#555" stroke-width="1"/>
<line x1="217.3" y1="717.3" x2="229.7" y2="717.3" stroke="#555" stroke-width="1"/>
<rect x="206.3" y="653.4" width="35.1" height="43.3" rx="1" fill="#c0c0c0" stroke="#3a3a3a" stroke-width="1.1"/>
<line x1="206.3" y1="679" x2="241.4" y2="679" stroke="#3a3a3a" stroke-width="1.1"/>
<line x1="206.9" y1="668.2" x2="240.8" y2="668.2" stroke="#dc5252" stroke-width="1.2"/>
<circle cx="223.5" cy="550.3" r="2.5" fill="#000"/>
<circle cx="223.5" cy="722.1" r="2.5" fill="#000"/>
<line x1="282.6" y1="565.2" x2="282.6" y2="636.3" stroke="#555" stroke-width="1"/>
<line x1="282.6" y1="690.1" x2="282.6" y2="708.2" stroke="#555" stroke-width="1"/>
<line x1="276.4" y1="565.2" x2="288.8" y2="565.2" stroke="#555" stroke-width="1"/>
<line x1="276.4" y1="708.2" x2="288.8" y2="708.2" stroke="#555" stroke-width="1"/>
<rect x="265.1" y="636.3" width="35.5" height="53.8" rx="1" fill="#c0c0c0" stroke="#3a3a3a" stroke-width="1.1"/>
<line x1="265.1" y1="673.6" x2="300.6" y2="673.6" stroke="#3a3a3a" stroke-width="1.1"/>
<line x1="265.7" y1="659" x2="300" y2="659" stroke="#dc5252" stroke-width="1.2"/>
<circle cx="282.6" cy="547.6" r="2.5" fill="#000"/>
<circle cx="282.6" cy="710.7" r="2.5" fill="#000"/>
<text x="106.1" y="756.8" font-size="11.3" text-anchor="middle" transform="matrix(1 0 0 1.08 0 -60.54)">7:00</text>
<text x="165" y="756.8" font-size="11.3" text-anchor="middle" transform="matrix(1 0 0 1.08 0 -60.54)">11:00</text>
<text x="223.5" y="756.8" font-size="11.3" text-anchor="middle" transform="matrix(1 0 0 1.08 0 -60.54)">14:00</text>
<text x="282.6" y="756.8" font-size="11.3" text-anchor="middle" transform="matrix(1 0 0 1.08 0 -60.54)">18:00</text>
<text x="13.6" y="628" font-size="11.6" text-anchor="middle" transform="rotate(-90 13.6 628)">Nitrate (NO<tspan font-size="8.0" baseline-shift="-3.6">3</tspan><tspan font-size="8.0" baseline-shift="6.3">&#8211;</tspan>; mg L<tspan font-size="8.0" baseline-shift="6.3">&#8211;1</tspan>)</text>
<text x="340.4" y="526" font-size="15.0" text-anchor="end" font-weight="bold">(E)</text>
<line x1="388.7" y1="510.86" x2="388.7" y2="723.5" stroke="#707070" stroke-width="1.5"/>
<line x1="385.5" y1="723.5" x2="388.7" y2="723.5" stroke="#555" stroke-width="1.0"/>
<text x="380.4" y="726.95" font-size="11.6" text-anchor="end" transform="matrix(1 0 0 1.08 0 -58.16)">2</text>
<line x1="385.5" y1="696.92" x2="388.7" y2="696.92" stroke="#555" stroke-width="1.0"/>
<text x="380.4" y="700.37" font-size="11.6" text-anchor="end" transform="matrix(1 0 0 1.08 0 -56.03)">4</text>
<line x1="385.5" y1="670.34" x2="388.7" y2="670.34" stroke="#555" stroke-width="1.0"/>
<text x="380.4" y="673.79" font-size="11.6" text-anchor="end" transform="matrix(1 0 0 1.08 0 -53.9)">6</text>
<line x1="385.5" y1="643.76" x2="388.7" y2="643.76" stroke="#555" stroke-width="1.0"/>
<text x="380.4" y="647.21" font-size="11.6" text-anchor="end" transform="matrix(1 0 0 1.08 0 -51.78)">8</text>
<line x1="385.5" y1="617.18" x2="388.7" y2="617.18" stroke="#555" stroke-width="1.0"/>
<text x="380.4" y="620.63" font-size="11.6" text-anchor="end" transform="matrix(1 0 0 1.08 0 -49.65)">10</text>
<line x1="385.5" y1="590.6" x2="388.7" y2="590.6" stroke="#555" stroke-width="1.0"/>
<text x="380.4" y="594.05" font-size="11.6" text-anchor="end" transform="matrix(1 0 0 1.08 0 -47.52)">12</text>
<line x1="385.5" y1="564.02" x2="388.7" y2="564.02" stroke="#555" stroke-width="1.0"/>
<text x="380.4" y="567.47" font-size="11.6" text-anchor="end" transform="matrix(1 0 0 1.08 0 -45.4)">14</text>
<line x1="385.5" y1="537.44" x2="388.7" y2="537.44" stroke="#555" stroke-width="1.0"/>
<text x="380.4" y="540.89" font-size="11.6" text-anchor="end" transform="matrix(1 0 0 1.08 0 -43.27)">16</text>
<line x1="385.5" y1="510.86" x2="388.7" y2="510.86" stroke="#555" stroke-width="1.0"/>
<text x="380.4" y="514.31" font-size="11.6" text-anchor="end" transform="matrix(1 0 0 1.08 0 -41.14)">18</text>
<line x1="388.7" y1="723.5" x2="682.8" y2="723.5" stroke="#707070" stroke-width="1.5"/>
<line x1="411.6" y1="723.5" x2="411.6" y2="726.9" stroke="#555" stroke-width="1.0"/>
<line x1="434.21" y1="723.5" x2="434.21" y2="726.9" stroke="#555" stroke-width="1.0"/>
<line x1="456.82" y1="723.5" x2="456.82" y2="726.9" stroke="#555" stroke-width="1.0"/>
<line x1="479.43" y1="723.5" x2="479.43" y2="726.9" stroke="#555" stroke-width="1.0"/>
<line x1="502.04" y1="723.5" x2="502.04" y2="726.9" stroke="#555" stroke-width="1.0"/>
<line x1="524.65" y1="723.5" x2="524.65" y2="726.9" stroke="#555" stroke-width="1.0"/>
<line x1="547.26" y1="723.5" x2="547.26" y2="726.9" stroke="#555" stroke-width="1.0"/>
<line x1="569.87" y1="723.5" x2="569.87" y2="726.9" stroke="#555" stroke-width="1.0"/>
<line x1="592.48" y1="723.5" x2="592.48" y2="726.9" stroke="#555" stroke-width="1.0"/>
<line x1="615.09" y1="723.5" x2="615.09" y2="726.9" stroke="#555" stroke-width="1.0"/>
<line x1="637.7" y1="723.5" x2="637.7" y2="726.9" stroke="#555" stroke-width="1.0"/>
<line x1="660.31" y1="723.5" x2="660.31" y2="726.9" stroke="#555" stroke-width="1.0"/>
<line x1="411.4" y1="538.5" x2="411.4" y2="564.5" stroke="#666" stroke-width="1"/>
<line x1="408" y1="538.5" x2="414.8" y2="538.5" stroke="#666" stroke-width="1"/>
<line x1="408" y1="564.5" x2="414.8" y2="564.5" stroke="#666" stroke-width="1"/>
<line x1="434" y1="618.3" x2="434" y2="637.4" stroke="#666" stroke-width="1"/>
<line x1="430.6" y1="618.3" x2="437.4" y2="618.3" stroke="#666" stroke-width="1"/>
<line x1="430.6" y1="637.4" x2="437.4" y2="637.4" stroke="#666" stroke-width="1"/>
<line x1="456.5" y1="628.9" x2="456.5" y2="691.5" stroke="#666" stroke-width="1"/>
<line x1="453.1" y1="628.9" x2="459.9" y2="628.9" stroke="#666" stroke-width="1"/>
<line x1="453.1" y1="691.5" x2="459.9" y2="691.5" stroke="#666" stroke-width="1"/>
<line x1="479.3" y1="647" x2="479.3" y2="689.5" stroke="#666" stroke-width="1"/>
<line x1="475.9" y1="647" x2="482.7" y2="647" stroke="#666" stroke-width="1"/>
<line x1="475.9" y1="689.5" x2="482.7" y2="689.5" stroke="#666" stroke-width="1"/>
<line x1="501.5" y1="666" x2="501.5" y2="668.2" stroke="#666" stroke-width="1"/>
<line x1="498.1" y1="666" x2="504.9" y2="666" stroke="#666" stroke-width="1"/>
<line x1="498.1" y1="668.2" x2="504.9" y2="668.2" stroke="#666" stroke-width="1"/>
<line x1="524.3" y1="680.2" x2="524.3" y2="704.6" stroke="#666" stroke-width="1"/>
<line x1="520.9" y1="680.2" x2="527.7" y2="680.2" stroke="#666" stroke-width="1"/>
<line x1="520.9" y1="704.6" x2="527.7" y2="704.6" stroke="#666" stroke-width="1"/>
<line x1="546.9" y1="633.3" x2="546.9" y2="660.4" stroke="#666" stroke-width="1"/>
<line x1="543.5" y1="633.3" x2="550.3" y2="633.3" stroke="#666" stroke-width="1"/>
<line x1="543.5" y1="660.4" x2="550.3" y2="660.4" stroke="#666" stroke-width="1"/>
<line x1="569.6" y1="656.4" x2="569.6" y2="674.6" stroke="#666" stroke-width="1"/>
<line x1="566.2" y1="656.4" x2="573" y2="656.4" stroke="#666" stroke-width="1"/>
<line x1="566.2" y1="674.6" x2="573" y2="674.6" stroke="#666" stroke-width="1"/>
<line x1="592" y1="685.5" x2="592" y2="701.3" stroke="#666" stroke-width="1"/>
<line x1="588.6" y1="685.5" x2="595.4" y2="685.5" stroke="#666" stroke-width="1"/>
<line x1="588.6" y1="701.3" x2="595.4" y2="701.3" stroke="#666" stroke-width="1"/>
<line x1="614.9" y1="665" x2="614.9" y2="692.5" stroke="#666" stroke-width="1"/>
<line x1="611.5" y1="665" x2="618.3" y2="665" stroke="#666" stroke-width="1"/>
<line x1="611.5" y1="692.5" x2="618.3" y2="692.5" stroke="#666" stroke-width="1"/>
<line x1="637.4" y1="672.5" x2="637.4" y2="707.9" stroke="#666" stroke-width="1"/>
<line x1="634" y1="672.5" x2="640.8" y2="672.5" stroke="#666" stroke-width="1"/>
<line x1="634" y1="707.9" x2="640.8" y2="707.9" stroke="#666" stroke-width="1"/>
<line x1="659.8" y1="658" x2="659.8" y2="678.1" stroke="#666" stroke-width="1"/>
<line x1="656.4" y1="658" x2="663.2" y2="658" stroke="#666" stroke-width="1"/>
<line x1="656.4" y1="678.1" x2="663.2" y2="678.1" stroke="#666" stroke-width="1"/>
<polyline points="411.4,551.2 434,627.9 456.5,660.1 479.3,668 501.5,667.1 524.3,692 546.9,646.6 569.6,665.2 592,693 614.9,678.7 637.4,690 659.8,667.8" fill="none" stroke="#2a2a2a" stroke-width="1"/>
<circle cx="411.4" cy="551.2" r="2.55" fill="#000"/>
<circle cx="434" cy="627.9" r="2.55" fill="#000"/>
<circle cx="456.5" cy="660.1" r="2.55" fill="#000"/>
<circle cx="479.3" cy="668" r="2.55" fill="#000"/>
<circle cx="501.5" cy="667.1" r="2.55" fill="#000"/>
<circle cx="524.3" cy="692" r="2.55" fill="#000"/>
<circle cx="546.9" cy="646.6" r="2.55" fill="#000"/>
<circle cx="569.6" cy="665.2" r="2.55" fill="#000"/>
<circle cx="592" cy="693" r="2.55" fill="#000"/>
<circle cx="614.9" cy="678.7" r="2.55" fill="#000"/>
<circle cx="637.4" cy="690" r="2.55" fill="#000"/>
<circle cx="659.8" cy="667.8" r="2.55" fill="#000"/>
<text x="414.8" y="733.2" font-size="10.1" text-anchor="end" transform="rotate(-45 414.8 733.2)">2020.10</text>
<text x="437.41" y="733.2" font-size="10.1" text-anchor="end" transform="rotate(-45 437.41 733.2)">2020.12</text>
<text x="460.02" y="733.2" font-size="10.1" text-anchor="end" transform="rotate(-45 460.02 733.2)">2021.1</text>
<text x="482.63" y="733.2" font-size="10.1" text-anchor="end" transform="rotate(-45 482.63 733.2)">2021.2</text>
<text x="505.24" y="733.2" font-size="10.1" text-anchor="end" transform="rotate(-45 505.24 733.2)">2021.3</text>
<text x="527.85" y="733.2" font-size="10.1" text-anchor="end" transform="rotate(-45 527.85 733.2)">2021.4</text>
<text x="550.46" y="733.2" font-size="10.1" text-anchor="end" transform="rotate(-45 550.46 733.2)">2021.5</text>
<text x="573.07" y="733.2" font-size="10.1" text-anchor="end" transform="rotate(-45 573.07 733.2)">2021.6</text>
<text x="595.68" y="733.2" font-size="10.1" text-anchor="end" transform="rotate(-45 595.68 733.2)">2021.7</text>
<text x="618.29" y="733.2" font-size="10.1" text-anchor="end" transform="rotate(-45 618.29 733.2)">2021.8</text>
<text x="640.9" y="733.2" font-size="10.1" text-anchor="end" transform="rotate(-45 640.9 733.2)">2021.10</text>
<text x="663.51" y="733.2" font-size="10.1" text-anchor="end" transform="rotate(-45 663.51 733.2)">2021.11</text>
<text x="355.4" y="619.95" font-size="11.55" text-anchor="middle" transform="rotate(-90 355.4 619.95)">Nitrate (NO<tspan font-size="8.0" baseline-shift="-3.6">3</tspan><tspan font-size="8.0" baseline-shift="6.3">&#8211;</tspan>; mg L<tspan font-size="8.0" baseline-shift="6.3">&#8211;1</tspan>)</text>
<text x="679.4" y="513" font-size="15.0" text-anchor="end" font-weight="bold">(F)</text>
<line x1="52.2" y1="777.5" x2="52.2" y2="996.2" stroke="#707070" stroke-width="1.5"/>
<line x1="49" y1="996.2" x2="52.2" y2="996.2" stroke="#555" stroke-width="1.0"/>
<text x="43.9" y="999.65" font-size="11.6" text-anchor="end" transform="matrix(1 0 0 1.08 0 -79.97)">20</text>
<line x1="49" y1="959.75" x2="52.2" y2="959.75" stroke="#555" stroke-width="1.0"/>
<text x="43.9" y="963.2" font-size="11.6" text-anchor="end" transform="matrix(1 0 0 1.08 0 -77.06)">40</text>
<line x1="49" y1="923.3" x2="52.2" y2="923.3" stroke="#555" stroke-width="1.0"/>
<text x="43.9" y="926.75" font-size="11.6" text-anchor="end" transform="matrix(1 0 0 1.08 0 -74.14)">60</text>
<line x1="49" y1="886.85" x2="52.2" y2="886.85" stroke="#555" stroke-width="1.0"/>
<text x="43.9" y="890.3" font-size="11.6" text-anchor="end" transform="matrix(1 0 0 1.08 0 -71.22)">80</text>
<line x1="49" y1="850.4" x2="52.2" y2="850.4" stroke="#555" stroke-width="1.0"/>
<text x="43.9" y="853.85" font-size="11.6" text-anchor="end" transform="matrix(1 0 0 1.08 0 -68.31)">100</text>
<line x1="49" y1="813.95" x2="52.2" y2="813.95" stroke="#555" stroke-width="1.0"/>
<text x="43.9" y="817.4" font-size="11.6" text-anchor="end" transform="matrix(1 0 0 1.08 0 -65.39)">120</text>
<line x1="49" y1="777.5" x2="52.2" y2="777.5" stroke="#555" stroke-width="1.0"/>
<text x="43.9" y="780.95" font-size="11.6" text-anchor="end" transform="matrix(1 0 0 1.08 0 -62.48)">140</text>
<line x1="52.2" y1="996.1" x2="342.3" y2="996.1" stroke="#707070" stroke-width="1.5"/>
<line x1="110" y1="996.1" x2="110" y2="999.5" stroke="#555" stroke-width="1.0"/>
<line x1="168.1" y1="996.1" x2="168.1" y2="999.5" stroke="#555" stroke-width="1.0"/>
<line x1="226.1" y1="996.1" x2="226.1" y2="999.5" stroke="#555" stroke-width="1.0"/>
<line x1="284" y1="996.1" x2="284" y2="999.5" stroke="#555" stroke-width="1.0"/>
<line x1="110" y1="810.5" x2="110" y2="856.1" stroke="#555" stroke-width="1"/>
<line x1="110" y1="948.6" x2="110" y2="965.1" stroke="#555" stroke-width="1"/>
<line x1="103.8" y1="810.5" x2="116.2" y2="810.5" stroke="#555" stroke-width="1"/>
<line x1="103.8" y1="965.1" x2="116.2" y2="965.1" stroke="#555" stroke-width="1"/>
<rect x="92.5" y="856.1" width="35.2" height="92.5" rx="1" fill="#c0c0c0" stroke="#3a3a3a" stroke-width="1.1"/>
<line x1="92.5" y1="883.2" x2="127.7" y2="883.2" stroke="#3a3a3a" stroke-width="1.1"/>
<line x1="93.1" y1="893" x2="127.1" y2="893" stroke="#dc5252" stroke-width="1.2"/>
<circle cx="110" cy="803.2" r="2.5" fill="#000"/>
<circle cx="110" cy="965.1" r="2.5" fill="#000"/>
<line x1="168.1" y1="809.6" x2="168.1" y2="851.5" stroke="#555" stroke-width="1"/>
<line x1="168.1" y1="943.2" x2="168.1" y2="961" stroke="#555" stroke-width="1"/>
<line x1="161.9" y1="809.6" x2="174.3" y2="809.6" stroke="#555" stroke-width="1"/>
<line x1="161.9" y1="961" x2="174.3" y2="961" stroke="#555" stroke-width="1"/>
<rect x="150.4" y="851.5" width="35.2" height="91.7" rx="1" fill="#c0c0c0" stroke="#3a3a3a" stroke-width="1.1"/>
<line x1="150.4" y1="877.2" x2="185.6" y2="877.2" stroke="#3a3a3a" stroke-width="1.1"/>
<line x1="151" y1="887.8" x2="185" y2="887.8" stroke="#dc5252" stroke-width="1.2"/>
<circle cx="168.1" cy="803.2" r="2.5" fill="#000"/>
<circle cx="168.1" cy="961.6" r="2.5" fill="#000"/>
<line x1="226.1" y1="807" x2="226.1" y2="847.2" stroke="#555" stroke-width="1"/>
<line x1="226.1" y1="933.3" x2="226.1" y2="954.3" stroke="#555" stroke-width="1"/>
<line x1="219.9" y1="807" x2="232.3" y2="807" stroke="#555" stroke-width="1"/>
<line x1="219.9" y1="954.3" x2="232.3" y2="954.3" stroke="#555" stroke-width="1"/>
<rect x="208.4" y="847.2" width="35.2" height="86.1" rx="1" fill="#c0c0c0" stroke="#3a3a3a" stroke-width="1.1"/>
<line x1="208.4" y1="867.1" x2="243.6" y2="867.1" stroke="#3a3a3a" stroke-width="1.1"/>
<line x1="209" y1="881.5" x2="243" y2="881.5" stroke="#dc5252" stroke-width="1.2"/>
<circle cx="226.1" cy="803.2" r="2.5" fill="#000"/>
<circle cx="226.1" cy="958.1" r="2.5" fill="#000"/>
<line x1="284" y1="805.1" x2="284" y2="843.8" stroke="#555" stroke-width="1"/>
<line x1="284" y1="924.2" x2="284" y2="952.3" stroke="#555" stroke-width="1"/>
<line x1="277.8" y1="805.1" x2="290.2" y2="805.1" stroke="#555" stroke-width="1"/>
<line x1="277.8" y1="952.3" x2="290.2" y2="952.3" stroke="#555" stroke-width="1"/>
<rect x="266.5" y="843.8" width="35" height="80.4" rx="1" fill="#c0c0c0" stroke="#3a3a3a" stroke-width="1.1"/>
<line x1="266.5" y1="865.3" x2="301.5" y2="865.3" stroke="#3a3a3a" stroke-width="1.1"/>
<line x1="267.1" y1="876.6" x2="300.9" y2="876.6" stroke="#dc5252" stroke-width="1.2"/>
<circle cx="284" cy="801.6" r="2.5" fill="#000"/>
<circle cx="284" cy="955.8" r="2.5" fill="#000"/>
<text x="110" y="1015.4" font-size="11.3" text-anchor="middle" transform="matrix(1 0 0 1.08 0 -81.23)">7:00</text>
<text x="168.1" y="1015.4" font-size="11.3" text-anchor="middle" transform="matrix(1 0 0 1.08 0 -81.23)">11:00</text>
<text x="226.1" y="1015.4" font-size="11.3" text-anchor="middle" transform="matrix(1 0 0 1.08 0 -81.23)">14:00</text>
<text x="284" y="1015.4" font-size="11.3" text-anchor="middle" transform="matrix(1 0 0 1.08 0 -81.23)">18:00</text>
<text x="13.6" y="886.85" font-size="11.85" text-anchor="middle" transform="rotate(-90 13.6 886.85)">Sulfate (SO<tspan font-size="8.0" baseline-shift="-3.6">4</tspan><tspan font-size="8.0" baseline-shift="6.3">2&#8211;</tspan>; mg L<tspan font-size="8.0" baseline-shift="6.3">&#8211;1</tspan>)</text>
<text x="341.4" y="785" font-size="15.0" text-anchor="end" font-weight="bold">(G)</text>
<line x1="393.3" y1="765.78" x2="393.3" y2="981.6" stroke="#707070" stroke-width="1.5"/>
<line x1="390.1" y1="981.6" x2="393.3" y2="981.6" stroke="#555" stroke-width="1.0"/>
<text x="385" y="985.05" font-size="11.6" text-anchor="end" transform="matrix(1 0 0 1.08 0 -78.8)">20</text>
<line x1="390.1" y1="945.63" x2="393.3" y2="945.63" stroke="#555" stroke-width="1.0"/>
<text x="385" y="949.08" font-size="11.6" text-anchor="end" transform="matrix(1 0 0 1.08 0 -75.93)">40</text>
<line x1="390.1" y1="909.66" x2="393.3" y2="909.66" stroke="#555" stroke-width="1.0"/>
<text x="385" y="913.11" font-size="11.6" text-anchor="end" transform="matrix(1 0 0 1.08 0 -73.05)">60</text>
<line x1="390.1" y1="873.69" x2="393.3" y2="873.69" stroke="#555" stroke-width="1.0"/>
<text x="385" y="877.14" font-size="11.6" text-anchor="end" transform="matrix(1 0 0 1.08 0 -70.17)">80</text>
<line x1="390.1" y1="837.72" x2="393.3" y2="837.72" stroke="#555" stroke-width="1.0"/>
<text x="385" y="841.17" font-size="11.6" text-anchor="end" transform="matrix(1 0 0 1.08 0 -67.29)">100</text>
<line x1="390.1" y1="801.75" x2="393.3" y2="801.75" stroke="#555" stroke-width="1.0"/>
<text x="385" y="805.2" font-size="11.6" text-anchor="end" transform="matrix(1 0 0 1.08 0 -64.42)">120</text>
<line x1="390.1" y1="765.78" x2="393.3" y2="765.78" stroke="#555" stroke-width="1.0"/>
<text x="385" y="769.23" font-size="11.6" text-anchor="end" transform="matrix(1 0 0 1.08 0 -61.54)">140</text>
<line x1="393.3" y1="981.6" x2="682.4" y2="981.6" stroke="#707070" stroke-width="1.5"/>
<line x1="415.9" y1="981.6" x2="415.9" y2="985" stroke="#555" stroke-width="1.0"/>
<line x1="438.14" y1="981.6" x2="438.14" y2="985" stroke="#555" stroke-width="1.0"/>
<line x1="460.38" y1="981.6" x2="460.38" y2="985" stroke="#555" stroke-width="1.0"/>
<line x1="482.62" y1="981.6" x2="482.62" y2="985" stroke="#555" stroke-width="1.0"/>
<line x1="504.86" y1="981.6" x2="504.86" y2="985" stroke="#555" stroke-width="1.0"/>
<line x1="527.1" y1="981.6" x2="527.1" y2="985" stroke="#555" stroke-width="1.0"/>
<line x1="549.34" y1="981.6" x2="549.34" y2="985" stroke="#555" stroke-width="1.0"/>
<line x1="571.58" y1="981.6" x2="571.58" y2="985" stroke="#555" stroke-width="1.0"/>
<line x1="593.82" y1="981.6" x2="593.82" y2="985" stroke="#555" stroke-width="1.0"/>
<line x1="616.06" y1="981.6" x2="616.06" y2="985" stroke="#555" stroke-width="1.0"/>
<line x1="638.3" y1="981.6" x2="638.3" y2="985" stroke="#555" stroke-width="1.0"/>
<line x1="660.54" y1="981.6" x2="660.54" y2="985" stroke="#555" stroke-width="1.0"/>
<line x1="415.7" y1="852.3" x2="415.7" y2="869.8" stroke="#666" stroke-width="1"/>
<line x1="412.3" y1="852.3" x2="419.1" y2="852.3" stroke="#666" stroke-width="1"/>
<line x1="412.3" y1="869.8" x2="419.1" y2="869.8" stroke="#666" stroke-width="1"/>
<line x1="438.1" y1="831.5" x2="438.1" y2="842.3" stroke="#666" stroke-width="1"/>
<line x1="434.7" y1="831.5" x2="441.5" y2="831.5" stroke="#666" stroke-width="1"/>
<line x1="434.7" y1="842.3" x2="441.5" y2="842.3" stroke="#666" stroke-width="1"/>
<line x1="460.5" y1="840.4" x2="460.5" y2="865.8" stroke="#666" stroke-width="1"/>
<line x1="457.1" y1="840.4" x2="463.9" y2="840.4" stroke="#666" stroke-width="1"/>
<line x1="457.1" y1="865.8" x2="463.9" y2="865.8" stroke="#666" stroke-width="1"/>
<line x1="482.6" y1="806.8" x2="482.6" y2="814.3" stroke="#666" stroke-width="1"/>
<line x1="479.2" y1="806.8" x2="486" y2="806.8" stroke="#666" stroke-width="1"/>
<line x1="479.2" y1="814.3" x2="486" y2="814.3" stroke="#666" stroke-width="1"/>
<line x1="504.8" y1="790" x2="504.8" y2="792.4" stroke="#666" stroke-width="1"/>
<line x1="501.4" y1="790" x2="508.2" y2="790" stroke="#666" stroke-width="1"/>
<line x1="501.4" y1="792.4" x2="508.2" y2="792.4" stroke="#666" stroke-width="1"/>
<line x1="527.3" y1="838.3" x2="527.3" y2="844.3" stroke="#666" stroke-width="1"/>
<line x1="523.9" y1="838.3" x2="530.7" y2="838.3" stroke="#666" stroke-width="1"/>
<line x1="523.9" y1="844.3" x2="530.7" y2="844.3" stroke="#666" stroke-width="1"/>
<line x1="549.4" y1="923.6" x2="549.4" y2="934.8" stroke="#666" stroke-width="1"/>
<line x1="546" y1="923.6" x2="552.8" y2="923.6" stroke="#666" stroke-width="1"/>
<line x1="546" y1="934.8" x2="552.8" y2="934.8" stroke="#666" stroke-width="1"/>
<line x1="571.3" y1="945.5" x2="571.3" y2="951.1" stroke="#666" stroke-width="1"/>
<line x1="567.9" y1="945.5" x2="574.7" y2="945.5" stroke="#666" stroke-width="1"/>
<line x1="567.9" y1="951.1" x2="574.7" y2="951.1" stroke="#666" stroke-width="1"/>
<line x1="593.8" y1="942.3" x2="593.8" y2="950.7" stroke="#666" stroke-width="1"/>
<line x1="590.4" y1="942.3" x2="597.2" y2="942.3" stroke="#666" stroke-width="1"/>
<line x1="590.4" y1="950.7" x2="597.2" y2="950.7" stroke="#666" stroke-width="1"/>
<line x1="616" y1="913.2" x2="616" y2="931.1" stroke="#666" stroke-width="1"/>
<line x1="612.6" y1="913.2" x2="619.4" y2="913.2" stroke="#666" stroke-width="1"/>
<line x1="612.6" y1="931.1" x2="619.4" y2="931.1" stroke="#666" stroke-width="1"/>
<line x1="638.3" y1="878.2" x2="638.3" y2="901.5" stroke="#666" stroke-width="1"/>
<line x1="634.9" y1="878.2" x2="641.7" y2="878.2" stroke="#666" stroke-width="1"/>
<line x1="634.9" y1="901.5" x2="641.7" y2="901.5" stroke="#666" stroke-width="1"/>
<line x1="660.5" y1="864.5" x2="660.5" y2="881.5" stroke="#666" stroke-width="1"/>
<line x1="657.1" y1="864.5" x2="663.9" y2="864.5" stroke="#666" stroke-width="1"/>
<line x1="657.1" y1="881.5" x2="663.9" y2="881.5" stroke="#666" stroke-width="1"/>
<polyline points="415.7,861.3 438.1,837.1 460.5,852.7 482.6,810.5 504.8,791.2 527.3,841.1 549.4,928.8 571.3,947.8 593.8,946.4 616,921.8 638.3,889.6 660.5,872.8" fill="none" stroke="#2a2a2a" stroke-width="1"/>
<circle cx="415.7" cy="861.3" r="2.55" fill="#000"/>
<circle cx="438.1" cy="837.1" r="2.55" fill="#000"/>
<circle cx="460.5" cy="852.7" r="2.55" fill="#000"/>
<circle cx="482.6" cy="810.5" r="2.55" fill="#000"/>
<circle cx="504.8" cy="791.2" r="2.55" fill="#000"/>
<circle cx="527.3" cy="841.1" r="2.55" fill="#000"/>
<circle cx="549.4" cy="928.8" r="2.55" fill="#000"/>
<circle cx="571.3" cy="947.8" r="2.55" fill="#000"/>
<circle cx="593.8" cy="946.4" r="2.55" fill="#000"/>
<circle cx="616" cy="921.8" r="2.55" fill="#000"/>
<circle cx="638.3" cy="889.6" r="2.55" fill="#000"/>
<circle cx="660.5" cy="872.8" r="2.55" fill="#000"/>
<text x="419.1" y="991.3" font-size="10.1" text-anchor="end" transform="rotate(-45 419.1 991.3)">2020.10</text>
<text x="441.34" y="991.3" font-size="10.1" text-anchor="end" transform="rotate(-45 441.34 991.3)">2020.12</text>
<text x="463.58" y="991.3" font-size="10.1" text-anchor="end" transform="rotate(-45 463.58 991.3)">2021.1</text>
<text x="485.82" y="991.3" font-size="10.1" text-anchor="end" transform="rotate(-45 485.82 991.3)">2021.2</text>
<text x="508.06" y="991.3" font-size="10.1" text-anchor="end" transform="rotate(-45 508.06 991.3)">2021.3</text>
<text x="530.3" y="991.3" font-size="10.1" text-anchor="end" transform="rotate(-45 530.3 991.3)">2021.4</text>
<text x="552.54" y="991.3" font-size="10.1" text-anchor="end" transform="rotate(-45 552.54 991.3)">2021.5</text>
<text x="574.78" y="991.3" font-size="10.1" text-anchor="end" transform="rotate(-45 574.78 991.3)">2021.6</text>
<text x="597.02" y="991.3" font-size="10.1" text-anchor="end" transform="rotate(-45 597.02 991.3)">2021.7</text>
<text x="619.26" y="991.3" font-size="10.1" text-anchor="end" transform="rotate(-45 619.26 991.3)">2021.8</text>
<text x="641.5" y="991.3" font-size="10.1" text-anchor="end" transform="rotate(-45 641.5 991.3)">2021.10</text>
<text x="663.74" y="991.3" font-size="10.1" text-anchor="end" transform="rotate(-45 663.74 991.3)">2021.11</text>
<text x="355.4" y="873.1" font-size="11.7" text-anchor="middle" transform="rotate(-90 355.4 873.1)">Sulfate (SO<tspan font-size="8.0" baseline-shift="-3.6">4</tspan><tspan font-size="8.0" baseline-shift="6.3">2&#8211;</tspan>; mg L<tspan font-size="8.0" baseline-shift="6.3">&#8211;1</tspan>)</text>
<text x="681.8" y="773.7" font-size="15.0" text-anchor="end" font-weight="bold">(H)</text>
</g>
</svg>
</body></html>
